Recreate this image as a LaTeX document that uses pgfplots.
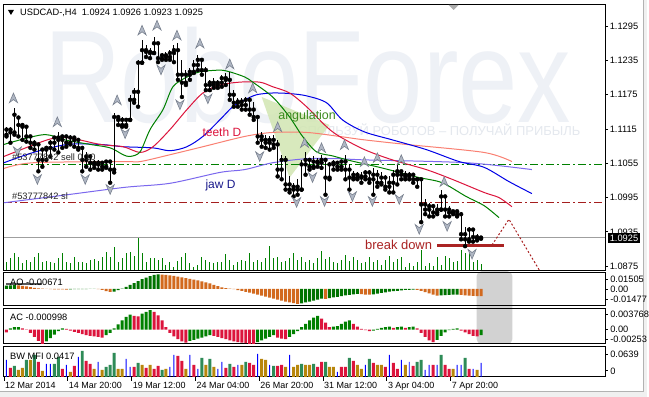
\documentclass[border=0pt]{standalone}
\usepackage{fontspec}
\setmainfont{Liberation Sans}
\usepackage{pgfplots}
\usepackage{pgfplotstable}
\pgfplotsset{compat=1.18}

\definecolor{lips}{RGB}{0,128,0}
\definecolor{teeth}{RGB}{220,20,60}
\definecolor{jaw}{RGB}{0,0,230}
\definecolor{teethD}{RGB}{250,128,114}
\definecolor{jawD}{RGB}{123,104,238}
\definecolor{wm}{RGB}{238,241,246}
\definecolor{wm2}{RGB}{228,232,238}
\definecolor{trifill}{RGB}{210,230,178}
\definecolor{aog}{RGB}{0,115,0}
\definecolor{aoo}{RGB}{210,105,30}
\definecolor{acg}{RGB}{0,128,0}
\definecolor{acr}{RGB}{220,20,60}
\definecolor{mfs}{RGB}{46,139,87}
\definecolor{mfc}{RGB}{220,20,60}
\definecolor{mfg}{RGB}{184,134,11}
\definecolor{mfb}{RGB}{0,0,255}
\definecolor{volg}{RGB}{0,128,0}
\definecolor{fracfill}{RGB}{176,183,196}
\definecolor{fracdraw}{RGB}{120,128,142}
\definecolor{brk}{RGB}{170,35,35}
\definecolor{angtxt}{RGB}{60,140,30}
\definecolor{jawtxt}{RGB}{25,25,140}
\definecolor{lvlg}{RGB}{0,128,0}
\definecolor{lvlr}{RGB}{165,30,30}

\pgfdeclareplotmark{fup}{%
\pgfpathmoveto{\pgfqpoint{0pt}{\pgfplotmarksize}}%
\pgfpathlineto{\pgfqpoint{0.85\pgfplotmarksize}{-\pgfplotmarksize}}%
\pgfpathlineto{\pgfqpoint{0pt}{-0.35\pgfplotmarksize}}%
\pgfpathlineto{\pgfqpoint{-0.85\pgfplotmarksize}{-\pgfplotmarksize}}%
\pgfpathclose\pgfusepathqfillstroke}
\pgfdeclareplotmark{fdn}{%
\pgfpathmoveto{\pgfqpoint{0pt}{-\pgfplotmarksize}}%
\pgfpathlineto{\pgfqpoint{0.85\pgfplotmarksize}{\pgfplotmarksize}}%
\pgfpathlineto{\pgfqpoint{0pt}{0.35\pgfplotmarksize}}%
\pgfpathlineto{\pgfqpoint{-0.85\pgfplotmarksize}{\pgfplotmarksize}}%
\pgfpathclose\pgfusepathqfillstroke}

\pgfplotstableread{
i o h l c
0 1.1105 1.1119 1.1102 1.1114
1 1.1114 1.1119 1.1091 1.1109
2 1.1109 1.1152 1.1105 1.1140
3 1.1135 1.1136 1.1102 1.1122
4 1.1122 1.1122 1.1096 1.1119
5 1.1119 1.1121 1.1093 1.1102
6 1.1102 1.1102 1.1082 1.1091
7 1.1091 1.1096 1.1079 1.1088
8 1.1088 1.1088 1.1041 1.1061
9 1.1061 1.1082 1.1049 1.1079
10 1.1079 1.1084 1.1061 1.1082
11 1.1082 1.1096 1.1067 1.1091
12 1.1091 1.1102 1.1079 1.1100
13 1.1100 1.1109 1.1074 1.1096
14 1.1096 1.1105 1.1082 1.1102
15 1.1102 1.1102 1.1084 1.1091
16 1.1091 1.1105 1.1088 1.1100
17 1.1100 1.1102 1.1084 1.1096
18 1.1096 1.1100 1.1079 1.1082
19 1.1082 1.1082 1.1041 1.1061
20 1.1061 1.1074 1.1049 1.1067
21 1.1067 1.1067 1.1044 1.1056
22 1.1056 1.1061 1.1047 1.1053
23 1.1053 1.1061 1.1044 1.1056
24 1.1056 1.1058 1.1044 1.1049
25 1.1049 1.1061 1.1047 1.1058
26 1.1058 1.1058 1.1021 1.1044
27 1.1044 1.1143 1.1039 1.1136
28 1.1136 1.1140 1.1122 1.1131
29 1.1131 1.1136 1.1119 1.1122
30 1.1122 1.1135 1.1119 1.1131
31 1.1131 1.1175 1.1131 1.1166
32 1.1166 1.1187 1.1161 1.1180
33 1.1180 1.1236 1.1154 1.1231
34 1.1231 1.1271 1.1231 1.1253
35 1.1253 1.1262 1.1241 1.1250
36 1.1250 1.1257 1.1239 1.1248
37 1.1248 1.1276 1.1248 1.1265
38 1.1265 1.1265 1.1232 1.1239
39 1.1239 1.1248 1.1236 1.1244
40 1.1244 1.1250 1.1236 1.1241
41 1.1241 1.1253 1.1236 1.1248
42 1.1248 1.1262 1.1232 1.1253
43 1.1253 1.1265 1.1201 1.1210
44 1.1210 1.1236 1.1171 1.1196
45 1.1196 1.1218 1.1192 1.1210
46 1.1210 1.1222 1.1201 1.1215
47 1.1215 1.1236 1.1213 1.1227
48 1.1227 1.1244 1.1218 1.1236
49 1.1236 1.1239 1.1210 1.1218
50 1.1218 1.1224 1.1183 1.1192
51 1.1192 1.1201 1.1183 1.1196
52 1.1196 1.1204 1.1187 1.1192
53 1.1192 1.1201 1.1187 1.1196
54 1.1196 1.1210 1.1189 1.1204
55 1.1204 1.1213 1.1192 1.1201
56 1.1201 1.1215 1.1166 1.1175
57 1.1175 1.1183 1.1154 1.1161
58 1.1161 1.1169 1.1154 1.1163
59 1.1163 1.1169 1.1149 1.1157
60 1.1157 1.1171 1.1149 1.1166
61 1.1166 1.1171 1.1140 1.1149
62 1.1149 1.1163 1.1131 1.1136
63 1.1136 1.1136 1.1091 1.1102
64 1.1102 1.1109 1.1084 1.1096
65 1.1096 1.1105 1.1082 1.1091
66 1.1091 1.1102 1.1079 1.1096
67 1.1096 1.1105 1.1082 1.1088
68 1.1088 1.1096 1.1032 1.1044
69 1.1044 1.1070 1.1027 1.1061
70 1.1061 1.1067 1.1009 1.1018
71 1.1018 1.1032 1.1004 1.1009
72 1.1009 1.1021 1.0997 1.1014
73 1.1014 1.1027 1.1000 1.1009
74 1.1009 1.1061 1.1009 1.1053
75 1.1053 1.1074 1.1035 1.1061
76 1.1061 1.1065 1.1044 1.1049
77 1.1049 1.1067 1.1047 1.1058
78 1.1058 1.1065 1.1049 1.1056
79 1.1056 1.1070 1.1047 1.1061
80 1.1061 1.1061 1.1000 1.1030
81 1.1030 1.1058 1.1027 1.1053
82 1.1053 1.1061 1.1044 1.1056
83 1.1056 1.1058 1.1044 1.1049
84 1.1049 1.1061 1.1044 1.1058
85 1.1058 1.1070 1.1027 1.1044
86 1.1044 1.1053 1.1009 1.1030
87 1.1030 1.1041 1.1027 1.1035
88 1.1035 1.1039 1.1027 1.1030
89 1.1030 1.1039 1.1021 1.1032
90 1.1032 1.1044 1.1027 1.1039
91 1.1039 1.1044 1.1021 1.1027
92 1.1027 1.1047 1.1000 1.1035
93 1.1035 1.1044 1.1014 1.1021
94 1.1021 1.1039 1.1018 1.1030
95 1.1030 1.1035 1.1009 1.1014
96 1.1014 1.1032 1.1004 1.1021
97 1.1021 1.1044 1.1004 1.1035
98 1.1035 1.1053 1.1018 1.1041
99 1.1041 1.1044 1.1027 1.1035
100 1.1035 1.1041 1.1027 1.1032
101 1.1032 1.1039 1.1027 1.1035
102 1.1035 1.1035 1.1021 1.1027
103 1.1027 1.1030 1.1014 1.1027
104 1.1027 1.1030 1.0952 1.0983
105 1.0983 1.0992 1.0966 1.0974
106 1.0974 1.0986 1.0962 1.0980
107 1.0980 1.0983 1.0962 1.0969
108 1.0969 1.0983 1.0966 1.0974
109 1.0974 1.1009 1.0974 1.0997
110 1.0997 1.0997 1.0962 1.0974
111 1.0974 1.0980 1.0962 1.0969
112 1.0969 1.0974 1.0966 1.0971
113 1.0971 1.0974 1.0962 1.0966
114 1.0966 1.0969 1.0922 1.0931
115 1.0931 1.0943 1.0910 1.0922
116 1.0922 1.0943 1.0918 1.0939
117 1.0939 1.0939 1.0918 1.0926
118 1.0926 1.0931 1.0920 1.0924
119 1.0924 1.0926 1.0923 1.0925
}\bars

\pgfplotsset{
  win/.style={anchor=north west, scale only axis, width=603pt,
    xmin=-0.625, xmax=150.125, axis line style={black, line width=1pt}, clip=true},
}

\begin{document}
\begin{tikzpicture}[font=\fontsize{9.3}{11}\selectfont]
\begin{scope}[x=1pt,y=1pt]
\path[use as bounding box] (0,0) rectangle (649,-398);
\fill[white] (0,0) rectangle (649,-398);
\fill[gray!12] (0,-393) rectangle (649,-398);
\fill[gray!12] (646,0) rectangle (649,-398);
\draw[gray!60, line width=1pt] (645.5,0) -- (645.5,-393) -- (0,-393);
\node[text=wm, font=\fontsize{132}{132}\selectfont, xscale=0.81, anchor=base west, inner sep=0pt] at (44,-123) {RoboForex};
\node[text=wm2, font=\fontsize{13}{13}\selectfont, anchor=center, inner sep=0pt] at (436,-130) {ИСПОЛЬЗУЙ РОБОТОВ – ПОЛУЧАЙ ПРИБЫЛЬ};
\fill[gray!35, rounded corners=5pt] (478,-272) rectangle (514,-345);
\end{scope}

% volumes (main window)
\begin{axis}[win, at={(4pt,-5pt)}, height=266pt, ymin=0, ymax=26600, axis lines=none, ticks=none]
\addplot[ycomb, volg, line width=1pt, mark=none] coordinates {
(0,800)(1,1200)(2,1700)(3,1300)(4,700)(5,1000)(6,800)(7,1300)(8,1700)(9,800)
(10,900)(11,800)(12,700)(13,1200)(14,1700)(15,800)(16,700)(17,1300)(18,800)(19,800)
(20,700)(21,1000)(22,1100)(23,900)(24,1300)(25,1800)(26,1300)(27,2300)(28,800)(29,1200)
(30,1700)(31,1800)(32,1400)(33,3200)(34,1700)(35,800)(36,1200)(37,1200)(38,1000)(39,1200)
(40,500)(41,800)(42,300)(43,900)(44,1300)(45,1700)(46,700)(47,300)(48,500)(49,1300)
(50,1000)(51,800)(52,700)(53,800)(54,800)(55,1600)(56,1000)(57,500)(58,800)(59,1000)
(60,900)(61,1700)(62,800)(63,1000)(64,800)(65,1200)(66,2400)(67,1200)(68,1300)(69,800)
(70,900)(71,1200)(72,1700)(73,1000)(74,1300)(75,800)(76,1000)(77,700)(78,1200)(79,1900)
(80,1100)(81,1300)(82,800)(83,700)(84,1000)(85,1500)(86,900)(87,1300)(88,1000)(89,700)
(90,800)(91,1300)(92,800)(93,1000)(94,500)(95,1000)(96,1400)(97,800)(98,1100)(99,1300)
(100,300)(101,700)(102,400)(103,800)(104,2000)(105,400)(106,700)(107,400)(108,1300)(109,500)
(110,1400)(111,1200)(112,800)(113,900)(114,2000)(115,1700)(116,2000)(117,800)(118,1000)(119,600)};
\end{axis}

% main price window
\begin{axis}[win, at={(4pt,-5pt)}, height=266pt, ymin=1.0868, ymax=1.1332,
  xtick=\empty,
  ytick={1.0875,1.0935,1.0995,1.1055,1.1115,1.1175,1.1235,1.1295},
  yticklabels={1.0875,1.0935,1.0995,1.1055,1.1115,1.1175,1.1235,1.1295},
  ytick pos=right, yticklabel pos=right, tick align=outside, major tick length=3pt,
  tick style={black, line width=0.8pt},
  yticklabel style={inner sep=1.5pt}]
\fill[trifill, opacity=0.85] (axis cs:64,1.1171) -- (axis cs:81,1.1122) -- (axis cs:71,1.1030) -- cycle;
\addplot[lvlg, line width=1pt, dash pattern=on 8pt off 3pt on 2pt off 3pt] coordinates {(-0.625,1.1053)(150.125,1.1053)};
\addplot[lvlr, line width=1pt, dash pattern=on 8pt off 3pt on 2pt off 3pt] coordinates {(-0.625,1.0986)(150.125,1.0986)};
\addplot[gray!75, line width=1pt] coordinates {(-0.625,1.0925)(150.125,1.0925)};
\addplot[teethD, line width=1pt, smooth] coordinates {(-0.625,1.1046)(6.75,1.1056)(29.25,1.1058)(33.5,1.1058)(41,1.1070)(49.25,1.1084)(59.75,1.1102)(66.75,1.1109)(75.25,1.1109)(83.5,1.1102)(89.75,1.1096)(100.25,1.1088)(119.75,1.1074)(126.75,1.1058)};
\addplot[jawD, line width=1pt, smooth] coordinates {(-0.625,1.0986)(15.25,1.1000)(29.75,1.1013)(41,1.1020)(53.5,1.1039)(59.75,1.1044)(66.75,1.1056)(75.25,1.1063)(83.5,1.1063)(89.75,1.1061)(115.25,1.1056)(131.75,1.1044)};
\addplot[jaw, line width=1pt, smooth] coordinates {(-0.625,1.1056)(6.75,1.1074)(15.25,1.1088)(23.5,1.1088)(29.25,1.1084)(36.75,1.1082)(41,1.1077)(45.25,1.1084)(49.25,1.1102)(53.5,1.1131)(56.75,1.1154)(59.75,1.1166)(62.75,1.1175)(66.75,1.1178)(71,1.1177)(75.25,1.1173)(80.25,1.1161)(84.25,1.1131)(89.75,1.1110)(96.75,1.1096)(105.25,1.1079)(113.5,1.1058)(119.75,1.1048)(126,1.1023)(131.75,1.1002)};
\addplot[teeth, line width=1pt, smooth] coordinates {(-0.625,1.1067)(10.25,1.1096)(15.25,1.1100)(23.5,1.1088)(29.25,1.1084)(33.5,1.1074)(36.75,1.1084)(41,1.1114)(45.25,1.1149)(49.25,1.1178)(53.5,1.1192)(58.5,1.1197)(63.5,1.1197)(66.75,1.1189)(71,1.1178)(75.25,1.1154)(80.25,1.1119)(83.5,1.1102)(89.75,1.1079)(96.75,1.1061)(105.25,1.1044)(111.75,1.1027)(119.75,1.1004)(123.5,1.0995)(126.75,1.0979)};
\addplot[lips, line width=1pt, smooth] coordinates {(-0.625,1.1088)(9.25,1.1105)(15.25,1.1095)(21,1.1088)(26,1.1082)(29.25,1.1070)(31,1.1067)(33.5,1.1075)(36,1.1114)(39.25,1.1149)(41.75,1.1189)(45.25,1.1206)(48.5,1.1215)(53.5,1.1218)(56,1.1215)(59.75,1.1206)(61.75,1.1197)(66.75,1.1171)(71,1.1136)(74.25,1.1102)(77.75,1.1075)(81.75,1.1068)(86,1.1060)(93.5,1.1048)(98.5,1.1039)(103.5,1.1030)(109.25,1.1021)(115.25,1.0997)(119.75,1.0981)(123.5,1.0960)};
\addplot[only marks, mark=none, forget plot, error bars/.cd, y dir=plus, y explicit, error mark=none, error bar style={black, line width=1pt}]
  table[x=i, y=l, y error plus expr=\thisrow{h}-\thisrow{l}] {\bars};
\addplot[only marks, mark=none, forget plot, error bars/.cd, x dir=minus, x fixed=0.375, error mark=none, error bar style={black, line width=1pt}]
  table[x=i, y=o] {\bars};
\addplot[only marks, mark=none, forget plot, error bars/.cd, x dir=plus, x fixed=0.375, error mark=none, error bar style={black, line width=1pt}]
  table[x=i, y=c] {\bars};
\addplot[only marks, mark=fup, mark size=4.8pt, mark options={fill=fracfill, draw=fracdraw, line width=0.6pt}] coordinates {
(1.75,1.11695)(12.75,1.11277)(27.75,1.1166)(34,1.1288)(37.75,1.12967)(42.75,1.12793)(48.5,1.12653)(56,1.12288)(61.75,1.11869)(68,1.11189)(74.75,1.10911)(79,1.10823)(84.75,1.10876)(89.75,1.10579)(93,1.10649)(99,1.10614)(109.75,1.10231)};
\addplot[only marks, mark=fdn, mark size=4.8pt, mark options={fill=fracfill, draw=fracdraw, line width=0.6pt}] coordinates {
(2.75,1.10754)(7.75,1.10266)(19.75,1.10266)(26,1.10091)(29.75,1.11067)(38.75,1.12183)(43.5,1.11573)(50.5,1.11677)(63.5,1.10667)(72.75,1.09865)(76.75,1.10300)(79.75,1.09882)(86.75,1.09969)(91.75,1.09882)(98.5,1.09917)(103.5,1.09394)(110.5,1.09446)(116.75,1.08959)};
\addplot[brk, line width=3pt] coordinates {(108,1.0912)(124.75,1.0912)};
\addplot[brk, line width=1pt, dash pattern=on 2pt off 2pt] coordinates {(121.75,1.0912)(126,1.0957)(135,1.0852)};
\end{axis}

% AO window
\begin{axis}[win, at={(4pt,-273pt)}, height=33pt, ymin=-0.01477, ymax=0.01505, xtick=\empty, ytick=\empty]
\addplot[ybar, bar width=3pt, bar shift=0pt, fill=aog, draw=none] coordinates {
(0,0.0028)(1,0.0031)(2,0.0033)(16,-0.0005)(17,-0.0004)(18,-0.0004)(19,-0.0003)(20,-0.0003)(21,-0.0002)(22,-0.0002)
(27,-0.0025)(28,-0.0012)(29,0.0002)(30,0.0018)(31,0.0035)(32,0.0052)(33,0.0070)(34,0.0088)(35,0.0102)(36,0.0115)(37,0.0126)(38,0.0131)
(74,-0.0132)(75,-0.0124)(76,-0.0116)(77,-0.0108)(78,-0.0099)(79,-0.0090)(81,-0.0085)(82,-0.0079)(83,-0.0073)(84,-0.0067)(85,-0.0061)(86,-0.0055)(87,-0.0050)(88,-0.0046)
(92,-0.0050)(93,-0.0044)(94,-0.0038)(95,-0.0032)(96,-0.0027)(97,-0.0022)(98,-0.0018)(99,-0.0014)(100,-0.0011)(101,-0.0009)(102,-0.0008)
(109,-0.0060)(110,-0.0058)(111,-0.0056)(112,-0.0054)(113,-0.0052)};
\addplot[ybar, bar width=3pt, bar shift=0pt, fill=aoo, draw=none] coordinates {
(3,0.0031)(4,0.0027)(5,0.0021)(6,0.0014)(7,0.0008)(8,0.0003)(9,0.0001)(10,-0.0002)(11,-0.0004)(12,-0.0005)(13,-0.0006)(14,-0.0006)(15,-0.0007)
(23,-0.0003)(24,-0.0010)(25,-0.0022)(26,-0.0028)
(39,0.0128)(40,0.0125)(41,0.0121)(42,0.0116)(43,0.0110)(44,0.0104)(45,0.0097)(46,0.0090)(47,0.0083)(48,0.0076)(49,0.0068)(50,0.0059)(51,0.0048)(52,0.0036)(53,0.0024)(54,0.0013)(55,0.0006)(56,0.0002)
(57,-0.0004)(58,-0.0012)(59,-0.0020)(60,-0.0028)(61,-0.0036)(62,-0.0044)(63,-0.0053)(64,-0.0062)(65,-0.0071)(66,-0.0080)(67,-0.0089)(68,-0.0098)(69,-0.0107)(70,-0.0116)(71,-0.0124)(72,-0.0131)(73,-0.0136)
(80,-0.0092)(89,-0.0049)(90,-0.0052)(91,-0.0054)
(103,-0.0010)(104,-0.0018)(105,-0.0030)(106,-0.0042)(107,-0.0053)(108,-0.0062)
(114,-0.0056)(115,-0.0060)(116,-0.0063)(117,-0.0065)(118,-0.0066)(119,-0.00671)};
\end{axis}

% AC window
\begin{axis}[win, at={(4pt,-309pt)}, height=36pt, ymin=-0.00253, ymax=0.003768, xtick=\empty, ytick=\empty]
\addplot[ybar, bar width=3pt, bar shift=0pt, fill=acg, draw=none] coordinates {
(1,0.0002)(2,0.0004)(3,0.0004)(10,-0.0021)(11,-0.0015)(12,-0.0009)(13,-0.0003)(14,0.0002)
(25,-0.0010)(26,-0.0006)(27,0.0002)(28,0.0009)(29,0.0016)(30,0.0022)(31,0.0026)(34,0.0028)(35,0.0031)(36,0.0034)
(46,-0.0020)(47,-0.0018)(48,-0.0016)(49,-0.0014)(50,-0.0012)(51,-0.0010)
(63,-0.0022)(64,-0.0019)(65,-0.0016)(66,-0.0013)(67,-0.0010)
(71,-0.0013)(72,-0.0008)(73,-0.0003)(74,0.0004)(75,0.0010)(76,0.0016)(77,0.0021)(78,0.0024)
(82,0.0005)(83,0.0006)(84,0.0010)(85,0.0014)(86,0.0016)
(92,-0.0002)(93,0.0001)(94,0.0003)(95,0.0004)(96,0.0005)(98,0.0004)(99,0.0005)(101,0.0004)(102,0.0005)
(108,-0.0018)(109,-0.0011)(110,-0.0005)(111,-0.0001)(112,0.0001)(113,0.0002)(119,-0.000998)};
\addplot[ybar, bar width=3pt, bar shift=0pt, fill=acr, draw=none] coordinates {
(0,-0.0005)(4,0.0002)(5,0.00003)(6,-0.0006)(7,-0.0013)(8,-0.0020)(9,-0.0025)
(15,0.0001)(16,-0.0002)(17,-0.0004)(18,-0.0006)(19,-0.0008)(20,-0.0010)(21,-0.0011)(22,-0.0012)(23,-0.0013)(24,-0.0014)
(32,0.0024)(33,0.0023)(37,0.0031)(38,0.0025)(39,0.0016)(40,0.0004)(41,-0.0006)(42,-0.0012)(43,-0.0017)(44,-0.0021)(45,-0.0023)
(52,-0.0011)(53,-0.0013)(54,-0.0015)(55,-0.0017)(56,-0.0019)(57,-0.0021)(58,-0.0022)(59,-0.0023)(60,-0.0024)(61,-0.0025)(62,-0.0026)
(68,-0.0014)(69,-0.0016)(70,-0.0017)(79,0.0019)(80,0.0012)(81,0.0004)
(87,0.0010)(88,0.0005)(89,0.0001)(90,-0.0001)(91,-0.0003)(97,0.0003)(100,0.0003)(103,0.0002)
(104,-0.0006)(105,-0.0013)(106,-0.0019)(107,-0.0022)(114,-0.0002)(115,-0.0005)(116,-0.0008)(117,-0.0011)(118,-0.0012)};
\end{axis}

% BW MFI window
\begin{axis}[win, at={(4pt,-348pt)}, height=30pt, ymin=0, ymax=0.09, ytick=\empty,
  xtick={-0.625,15.375,31.375,47.375,63.375,79.375,95.375,111.375},
  xticklabels={12 Mar 2014,14 Mar 20:00,19 Mar 12:00,24 Mar 04:00,26 Mar 20:00,31 Mar 12:00,3 Apr 04:00,7 Apr 20:00},
  xtick pos=bottom, tick align=outside, major tick length=4pt, tick style={black, line width=0.8pt},
  xticklabel style={anchor=north west, inner sep=1pt, font=\fontsize{9}{10}\selectfont}]
\addplot[ybar, bar width=3pt, bar shift=0pt, fill=mfs, draw=none] coordinates {
(2,0.033)(5,0.051)(7,0.066)(12,0.039)(13,0.060)(19,0.078)(25,0.030)(26,0.036)(27,0.072)(33,0.042)(39,0.021)(49,0.057)(51,0.054)(56,0.039)(60,0.045)(67,0.033)(74,0.039)(77,0.039)(80,0.045)(86,0.057)(91,0.054)(103,0.045)(104,0.051)(109,0.066)(115,0.057)};
\addplot[ybar, bar width=3pt, bar shift=0pt, fill=mfc, draw=none] coordinates {
(1,0.027)(8,0.045)(14,0.024)(17,0.033)(20,0.048)(21,0.039)(32,0.030)(35,0.027)(37,0.024)(38,0.033)(43,0.063)(44,0.048)(47,0.036)(55,0.027)(57,0.030)(61,0.042)(62,0.036)(68,0.033)(69,0.036)(78,0.030)(79,0.045)(84,0.030)(85,0.030)(87,0.048)(92,0.042)(95,0.030)(97,0.042)(98,0.024)(102,0.033)(107,0.036)(110,0.036)(111,0.024)(116,0.024)};
\addplot[ybar, bar width=3pt, bar shift=0pt, fill=mfg, draw=none] coordinates {
(3,0.021)(4,0.027)(6,0.051)(9,0.018)(16,0.015)(22,0.024)(24,0.021)(28,0.024)(29,0.024)(34,0.036)(36,0.036)(40,0.024)(45,0.024)(50,0.036)(52,0.030)(59,0.036)(64,0.054)(65,0.051)(70,0.030)(72,0.030)(73,0.036)(75,0.036)(76,0.036)(81,0.030)(82,0.030)(88,0.036)(89,0.024)(93,0.036)(94,0.036)(100,0.036)(112,0.024)(118,0.021)};
\addplot[ybar, bar width=1pt, bar shift=0pt, fill=mfb, draw=none] coordinates {
(0,0.051)(10,0.039)(11,0.039)(15,0.036)(18,0.060)(23,0.045)(30,0.054)(31,0.030)(41,0.030)(42,0.066)(46,0.066)(48,0.024)(53,0.024)(54,0.045)(58,0.036)(63,0.069)(66,0.036)(71,0.066)(83,0.015)(90,0.036)(96,0.066)(99,0.051)(101,0.045)(105,0.021)(106,0.036)(108,0.036)(113,0.036)(114,0.036)(117,0.024)(119,0.0417)};
\end{axis}

\begin{scope}[x=1pt,y=1pt]
\fill[black] (8,-10) -- (14,-10) -- (11,-15) -- cycle;
\node[anchor=west, inner sep=0pt] at (20,-13) {USDCAD-,H4\hspace{5pt}1.0924 1.0926 1.0923 1.0925};
\fill[gray!65] (450,-5) -- (460,-5) -- (455,-10) -- cycle;
\node[anchor=west, inner sep=0pt, text=teeth, font=\fontsize{12}{12}\selectfont] at (203,-133) {teeth D};
\node[anchor=west, inner sep=0pt, text=jawtxt, font=\fontsize{12}{12}\selectfont] at (206,-186) {jaw D};
\node[anchor=west, inner sep=0pt, text=angtxt, font=\fontsize{12.5}{12.5}\selectfont] at (279,-117) {angulation};
\node[anchor=west, inner sep=0pt, text=brk, font=\fontsize{13}{13}\selectfont] at (366,-246) {break down};
\node[anchor=west, inner sep=0pt, text=black!85] at (12,-158) {\#53777842 sell 0.10};
\node[anchor=west, inner sep=0pt, text=black!85] at (12,-197) {\#53777842 sl};
\node[anchor=west, fill=black, text=white, inner sep=1.5pt] at (610,-239) {1.0925};
\draw[gray!70!black, line width=1.5pt] (6,-285) -- (42,-285);
\node[anchor=west, inner sep=0pt] at (10,-283) {AO -0.00671};
\node[anchor=west, inner sep=0pt] at (10,-318) {AC -0.000998};
\node[anchor=west, inner sep=0pt] at (10,-357) {BW MFI 0.0417};
\foreach \yy/\tt in {280/0.01505, 290/0.00, 300/-0.01477, 315/0.003768, 330/0.00, 340/-0.00253, 355/0.0639, 372/0} {
  \draw[black, line width=0.8pt] (607,-\yy) -- (610,-\yy);
  \node[anchor=west, inner sep=0pt] at (612,-\yy) {\tt};
}
\end{scope}
\end{tikzpicture}
\end{document}
